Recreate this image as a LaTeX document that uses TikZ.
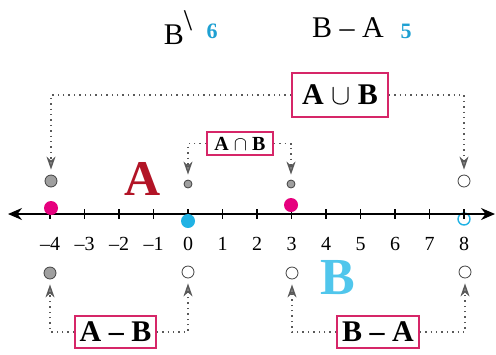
\documentclass[tikz,border=0pt]{standalone}
\usepackage{fontspec}
\setmainfont{Liberation Serif}
\usetikzlibrary{positioning,arrows.meta}
\definecolor{boxpink}{RGB}{214,38,104}
\definecolor{dotpink}{RGB}{230,0,126}
\definecolor{dotcyan}{RGB}{32,178,228}
\definecolor{numcyan}{RGB}{30,160,210}
\definecolor{bigcyan}{RGB}{80,198,236}
\definecolor{bigred}{RGB}{178,20,38}

\begin{document}
\begin{tikzpicture}[x=0.5pt,y=-0.5pt,
setbox/.style={draw=boxpink, line width=0.8pt, fill=white, inner sep=0pt, font=\bfseries\fontsize{15}{18}\selectfont},
dotfull/.style={circle, draw=black!75, fill=gray!75, inner sep=0pt, minimum size=6pt},
dotopen/.style={circle, draw=black!75, fill=white, inner sep=0pt, minimum size=6pt},
link/.style={dotted, line width=0.7pt, black!65, -{Stealth[length=6.5pt,width=4.5pt,inset=2pt,fill=gray!85]}, shorten >=2.5pt},
axis/.style={line width=0.8pt, {Stealth[length=7pt,width=6pt]}-{Stealth[length=7pt,width=6pt]}}
]
\useasboundingbox (0,0) rectangle (496,354);

% heading
\node[font=\fontsize{15}{18}\selectfont] (bprime) at (178,28) {B\raisebox{1.0ex}{\fontsize{15}{15}\selectfont\textbackslash}};
\node[font=\bfseries\fontsize{11}{12}\selectfont, text=numcyan] (six) at (212,31) {6};
\node[font=\fontsize{15}{18}\selectfont] (bmina) at (348,28) {B -- A};
\node[font=\bfseries\fontsize{11}{12}\selectfont, text=numcyan] (five) at (406,31) {5};

% number line
\coordinate (lend) at (8,214);
\coordinate (rend) at (495,214);
\node[circle, draw=dotcyan, line width=0.7pt, inner sep=0pt, minimum size=6pt] (bend) at (464,219) {};
\draw[axis] (lend) -- (rend);
\foreach \n/\lbl in {-4/--4,-3/--3,-2/--2,-1/--1,0/0,1/1,2/2,3/3,4/4,5/5,6/6,7/7,8/8} {
  \draw[line width=0.6pt] (188+34.5*\n,209) -- (188+34.5*\n,219);
  \node[font=\fontsize{10}{12}\selectfont] (t\n) at (188+34.5*\n,244) {\lbl};
}
\node[circle, fill=dotpink, inner sep=0pt, minimum size=7pt] (aleft) at (51,208) {};
\node[circle, fill=dotpink, inner sep=0pt, minimum size=7pt] (aright) at (291,205) {};
\node[circle, fill=dotcyan, inner sep=0pt, minimum size=7pt] (bstart) at (188,221) {};

\node[font=\bfseries\fontsize{25}{28}\selectfont, text=bigred] (seta) at (143,179) {A};
\node[font=\bfseries\fontsize{26}{28}\selectfont, text=bigcyan] (setb) at (338,278) {B};

% union
\node[setbox, minimum width=48pt, minimum height=22pt] (union) at (340,95) {A $\cup$ B};
\node[dotfull] (uA) at (51,181) {};
\node[dotopen] (uB) at (464,181) {};
\draw[link] (union.west) -| (uA);
\draw[link] (union.east) -| (uB);

% intersection
\node[setbox, minimum width=33pt, minimum height=11.5pt, font=\bfseries\fontsize{10}{12}\selectfont] (inter) at (240,143.5) {A $\cap$ B};
\node[dotfull, minimum size=4pt] (iA) at (188,184) {};
\node[dotfull, minimum size=4pt] (iB) at (291,184) {};
\draw[link] (inter.west) -| (iA);
\draw[link] (inter.east) -| (iB);

% A - B
\node[setbox, minimum width=40.5pt, minimum height=16pt] (amb) at (115.5,332) {A -- B};
\node[dotfull] (dA) at (50,273) {};
\node[dotopen] (dB) at (188,272) {};
\draw[link] (amb.west) -| (dA);
\draw[link] (amb.east) -| (dB);

% B - A
\node[setbox, minimum width=41pt, minimum height=16pt] (bma) at (378,332) {B -- A};
\node[dotopen] (eA) at (292,273) {};
\node[dotopen] (eB) at (465,272) {};
\draw[link] (bma.west) -| (eA);
\draw[link] (bma.east) -| (eB);
\end{tikzpicture}
\end{document}
